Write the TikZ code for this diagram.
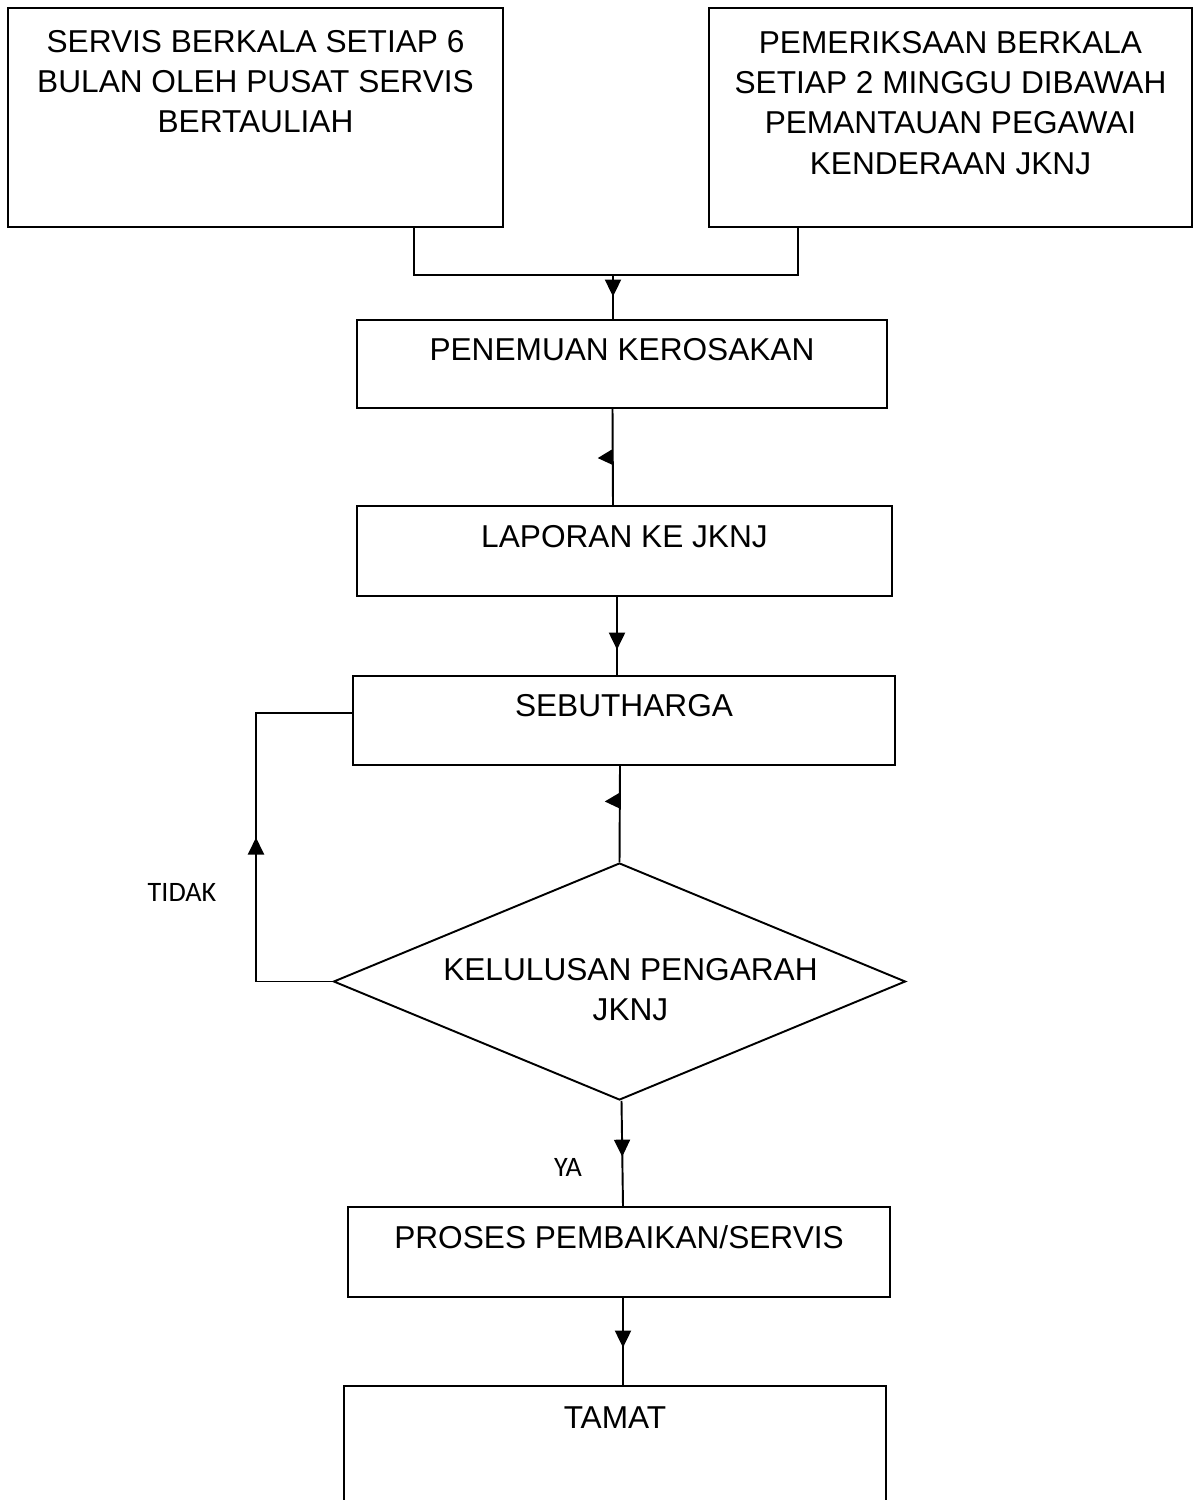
\documentclass[tikz,border=0pt]{standalone}
\usepackage{fontspec}
\setmainfont{Liberation Sans}
\newfontfamily\calibrifont{Carlito}
\usepackage{tikz}
\usetikzlibrary{arrows.meta}
\usetikzlibrary{shapes.geometric}
\usetikzlibrary{decorations.markings}

\begin{document}
\begin{tikzpicture}[
  line width=1.1pt,
  box/.style={rectangle, draw=black, inner sep=0pt},
  boxtext/.style={anchor=north, inner sep=0pt, align=center,
    font=\fontsize{18}{23}\selectfont, yshift=-#1},
  diatext/.style={anchor=center, inner sep=0pt, align=center,
    font=\fontsize{18}{23}\selectfont, xshift=0.22cm, yshift=-0.16cm},
  answer/.style={font=\calibrifont\fontsize{16}{19}\selectfont},
  midtip/.style={postaction={decorate}, decoration={markings,
    mark=at position #1 with {\arrow{Triangle[length=0.34cm, width=0.32cm]}}}},
  sidetip/.style={postaction={decorate}, decoration={markings,
    mark=at position #1 with {\fill (-0.16,0) -- (0.16,0) -- (0.02,-0.3) -- cycle;}}}
]
  \useasboundingbox (0,0) rectangle (24,-30);

  \node[box, minimum width=9.9cm, minimum height=4.38cm,
  label={[boxtext=0.44cm]north:{SERVIS BERKALA SETIAP 6\\BULAN OLEH PUSAT SERVIS\\BERTAULIAH}}]
  (srv) at (5.11, -2.35) {};
  \node[box, minimum width=9.66cm, minimum height=4.38cm,
  label={[boxtext=0.46cm]north:{PEMERIKSAAN BERKALA\\SETIAP 2 MINGGU DIBAWAH\\PEMANTAUAN PEGAWAI\\KENDERAAN JKNJ}}]
  (chk) at (19.01, -2.35) {};

  \node[box, minimum width=10.6cm, minimum height=1.76cm,
  label={[boxtext=0.36cm]north:PENEMUAN KEROSAKAN}] (find) at (12.44, -7.28) {};
  \node[box, minimum width=10.7cm, minimum height=1.8cm,
  label={[boxtext=0.38cm]north:LAPORAN KE JKNJ}] (rep) at (12.49, -11.02) {};
  \node[box, minimum width=10.84cm, minimum height=1.78cm,
  label={[boxtext=0.36cm]north:SEBUTHARGA}] (sub) at (12.48, -14.41) {};

  \node[diamond, draw=black, inner sep=0pt,
  minimum width=11.44cm, minimum height=4.74cm,
  label={[diatext]center:{KELULUSAN PENGARAH\\JKNJ}}] (dec) at (12.39, -19.63) {};

  \node[box, minimum width=10.84cm, minimum height=1.8cm,
  label={[boxtext=0.37cm]north:PROSES PEMBAIKAN/SERVIS}] (act) at (12.38, -25.04) {};
  \node[box, minimum width=10.84cm, minimum height=2.88cm,
  label={[boxtext=0.41cm]north:TAMAT}] (fin) at (12.30, -29.16) {};

  \node[answer] (no) at (3.64, -17.84) {TIDAK};
  \node[answer] (yes) at (11.36, -23.35) {YA};

  \coordinate (m) at (12.26, -5.5);
  \coordinate (lx) at (5.12, 0);

  \draw ([xshift=3.17cm]srv.south) |- (m);
  \draw ([xshift=-3.05cm]chk.south) |- (m);
  \draw[midtip=0.49] (m) -- (find.north -| m);
  \draw[sidetip=0.5] ([xshift=-0.19cm]find.south) -- ([xshift=-0.23cm]rep.north);
  \draw[midtip=0.675] ([xshift=-0.15cm]rep.south) -- ([xshift=-0.14cm]sub.north);
  \draw[sidetip=0.36] ([xshift=-0.08cm]sub.south) -- (dec.north);
  \draw[midtip=0.5] (dec.west) -- (dec.west -| lx) |- ([yshift=0.15cm]sub.west);
  \draw[midtip=0.53] ([xshift=0.04cm]dec.south) -- ([xshift=0.08cm]act.north);
  \draw[midtip=0.57] ([xshift=0.08cm]act.south) -- ([xshift=0.16cm]fin.north);
\end{tikzpicture}
\end{document}
